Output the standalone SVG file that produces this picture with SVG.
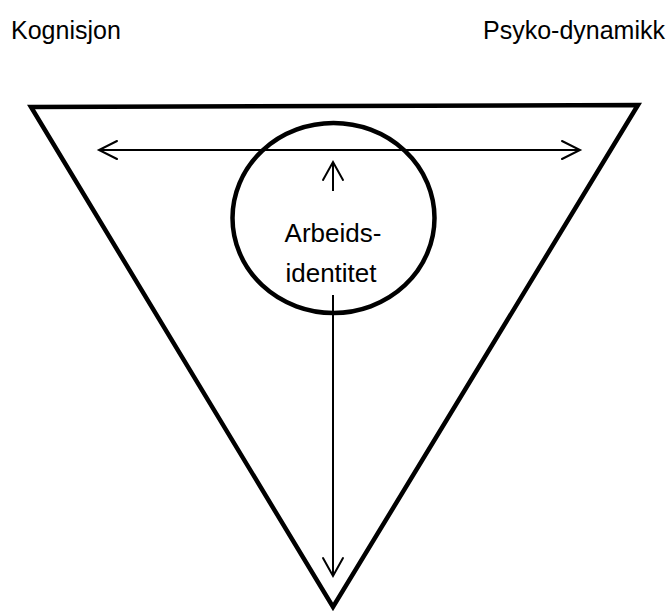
<svg xmlns="http://www.w3.org/2000/svg" width="671" height="614" viewBox="0 0 671 614">
<style>
text{font-family:"Liberation Sans",Arial,sans-serif;fill:#000}
.lbl{font-size:25px}
.in{font-size:26px;text-anchor:middle}
.shape{fill:none;stroke:#000;stroke-width:4.5}
.con{fill:none;stroke:#000;stroke-width:2}
.head{fill:none;stroke:#000;stroke-width:2;stroke-linecap:round;stroke-linejoin:miter}
</style>
<rect width="671" height="614" fill="#fff"/>
<g id="triangle">
<polygon class="shape" points="31,107 638,105 333,607" stroke-linejoin="miter"/>
</g>
<g id="kognisjon"><text class="lbl" x="11" y="39">Kognisjon</text></g>
<g id="psykodynamikk"><text class="lbl" x="483" y="39">Psyko-dynamikk</text></g>
<g id="arbeidsidentitet">
<ellipse class="shape" cx="333.5" cy="218" rx="101" ry="95"/>
<text class="in" x="333" y="242">Arbeids-</text>
<text class="in" x="331" y="282">identitet</text>
</g>
<g id="connectors">
<line class="con" x1="99" y1="150" x2="580" y2="150"/>
<polyline class="head" points="117,141 99,150 117,159"/>
<polyline class="head" points="562,141 580,150 562,159"/>
<line class="con" x1="333" y1="162" x2="333" y2="191"/>
<polyline class="head" points="323,180 333,162 343,180"/>
<line class="con" x1="333" y1="295" x2="333" y2="576"/>
<polyline class="head" points="323,558 333,576 343,558"/>
</g>
</svg>
